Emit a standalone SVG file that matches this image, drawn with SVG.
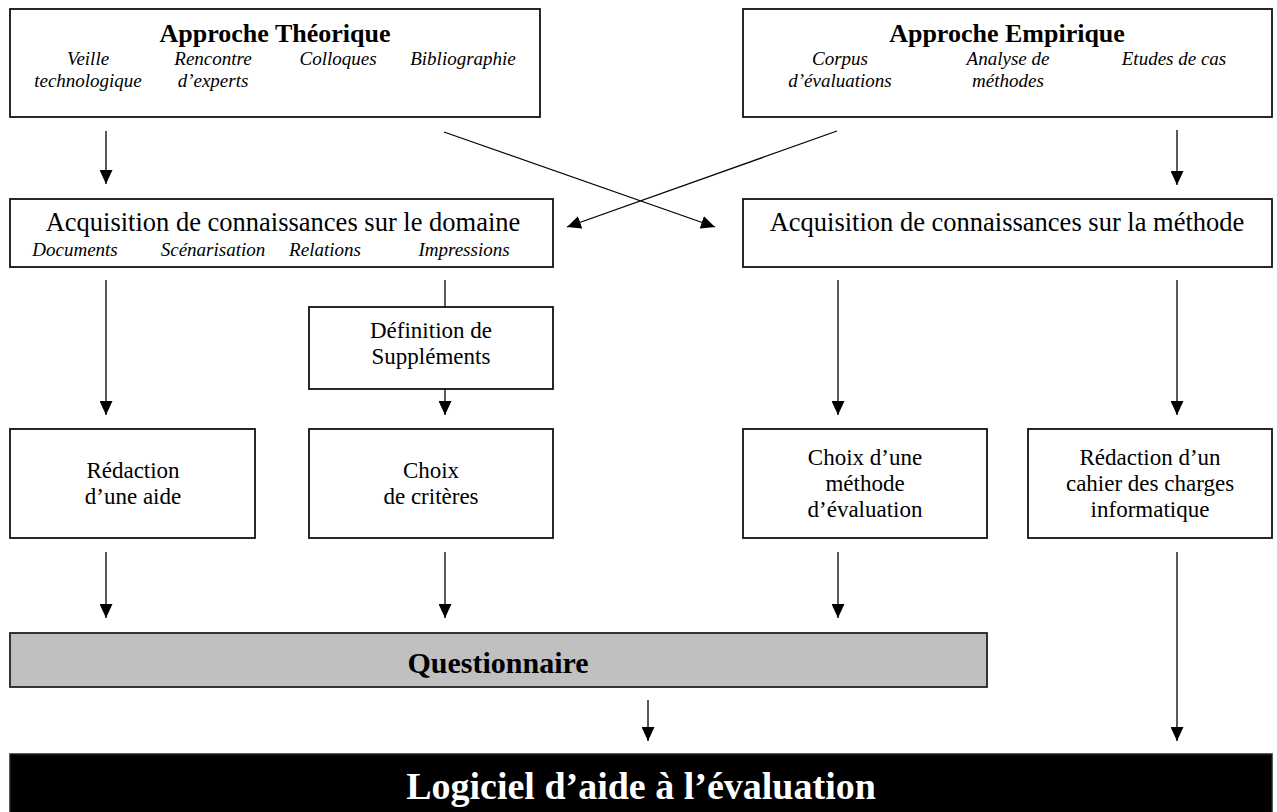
<svg xmlns="http://www.w3.org/2000/svg" width="1277" height="812" viewBox="0 0 1277 812">
<defs>
<marker id="ah" markerUnits="userSpaceOnUse" markerWidth="14" markerHeight="13" refX="14" refY="6.5" orient="auto">
<path d="M0,0 L14,6.5 L0,13 z" fill="#000"/>
</marker>
<style>
.box{fill:#fff;stroke:#111;stroke-width:1.8}
.t{font-family:"Liberation Serif","Times New Roman",serif;fill:#000;text-anchor:middle}
.h{font-size:26px;font-weight:bold}
.i{font-size:19px;font-style:italic}
.a{font-size:26.5px}
.n{font-size:23px}
.c line{stroke:#000;stroke-width:1.3;fill:none}
</style>
</defs>
<rect width="1277" height="812" fill="#fff"/>

<g id="approche-theorique">
<rect class="box" x="10" y="9" width="530" height="108"/>
<text class="t h" x="275" y="42">Approche Théorique</text>
<text class="t i" x="88" y="65">Veille</text>
<text class="t i" x="88" y="87">technologique</text>
<text class="t i" x="213" y="65">Rencontre</text>
<text class="t i" x="213" y="87">d’experts</text>
<text class="t i" x="338" y="65">Colloques</text>
<text class="t i" x="463" y="65">Bibliographie</text>
</g>

<g id="approche-empirique">
<rect class="box" x="743" y="9" width="529" height="108"/>
<text class="t h" x="1007" y="42">Approche Empirique</text>
<text class="t i" x="840" y="65">Corpus</text>
<text class="t i" x="840" y="87">d’évaluations</text>
<text class="t i" x="1008" y="65">Analyse de</text>
<text class="t i" x="1008" y="87">méthodes</text>
<text class="t i" x="1174" y="65">Etudes de cas</text>
</g>

<g id="acq-domaine">
<rect class="box" x="10" y="199" width="543" height="68"/>
<text class="t a" x="283" y="231">Acquisition de connaissances sur le domaine</text>
<text class="t i" x="75" y="256">Documents</text>
<text class="t i" x="213" y="256">Scénarisation</text>
<text class="t i" x="325" y="256">Relations</text>
<text class="t i" x="464" y="256">Impressions</text>
</g>

<g id="acq-methode">
<rect class="box" x="743" y="199" width="529" height="68"/>
<text class="t a" x="1007" y="231">Acquisition de connaissances sur la méthode</text>
</g>

<g id="definition-supplements">
<rect class="box" x="309" y="307" width="244" height="82"/>
<text class="t n" x="431" y="338">Définition de</text>
<text class="t n" x="431" y="364">Suppléments</text>
</g>

<g id="redaction-aide">
<rect class="box" x="10" y="429" width="245" height="109"/>
<text class="t n" x="133" y="478">Rédaction</text>
<text class="t n" x="133" y="504">d’une aide</text>
</g>

<g id="choix-criteres">
<rect class="box" x="309" y="429" width="244" height="109"/>
<text class="t n" x="431" y="478">Choix</text>
<text class="t n" x="431" y="504">de critères</text>
</g>

<g id="choix-methode">
<rect class="box" x="743" y="429" width="244" height="109"/>
<text class="t n" x="865" y="465">Choix d’une</text>
<text class="t n" x="865" y="491">méthode</text>
<text class="t n" x="865" y="517">d’évaluation</text>
</g>

<g id="redaction-cahier">
<rect class="box" x="1028" y="429" width="244" height="109"/>
<text class="t n" x="1150" y="465">Rédaction d’un</text>
<text class="t n" x="1150" y="491">cahier des charges</text>
<text class="t n" x="1150" y="517">informatique</text>
</g>

<g id="questionnaire">
<rect x="10" y="633" width="977" height="54" fill="#c0c0c0" stroke="#222" stroke-width="1.8"/>
<text class="t" x="498" y="673" font-size="30" font-weight="bold">Questionnaire</text>
</g>

<g id="logiciel">
<rect x="10" y="754" width="1262" height="70" fill="#000" stroke="#222" stroke-width="1.5"/>
<text class="t" x="641" y="799" font-size="38" font-weight="bold" style="fill:#fff">Logiciel d’aide à l’évaluation</text>
</g>

<g id="connectors" class="c">
<line x1="106" y1="131" x2="106" y2="184" marker-end="url(#ah)"/>
<line x1="1177" y1="130" x2="1177" y2="185" marker-end="url(#ah)"/>
<line x1="444" y1="132" x2="715" y2="227" marker-end="url(#ah)"/>
<line x1="837" y1="131" x2="567" y2="227" marker-end="url(#ah)"/>
<line x1="106" y1="280" x2="106" y2="415" marker-end="url(#ah)"/>
<line x1="445" y1="280" x2="445" y2="307"/>
<line x1="445" y1="389" x2="445" y2="415" marker-end="url(#ah)"/>
<line x1="838" y1="280" x2="838" y2="415" marker-end="url(#ah)"/>
<line x1="1177" y1="280" x2="1177" y2="415" marker-end="url(#ah)"/>
<line x1="106" y1="552" x2="106" y2="618" marker-end="url(#ah)"/>
<line x1="445" y1="552" x2="445" y2="618" marker-end="url(#ah)"/>
<line x1="838" y1="552" x2="838" y2="618" marker-end="url(#ah)"/>
<line x1="648" y1="700" x2="648" y2="741" marker-end="url(#ah)"/>
<line x1="1177" y1="552" x2="1177" y2="741" marker-end="url(#ah)"/>
</g>
</svg>
